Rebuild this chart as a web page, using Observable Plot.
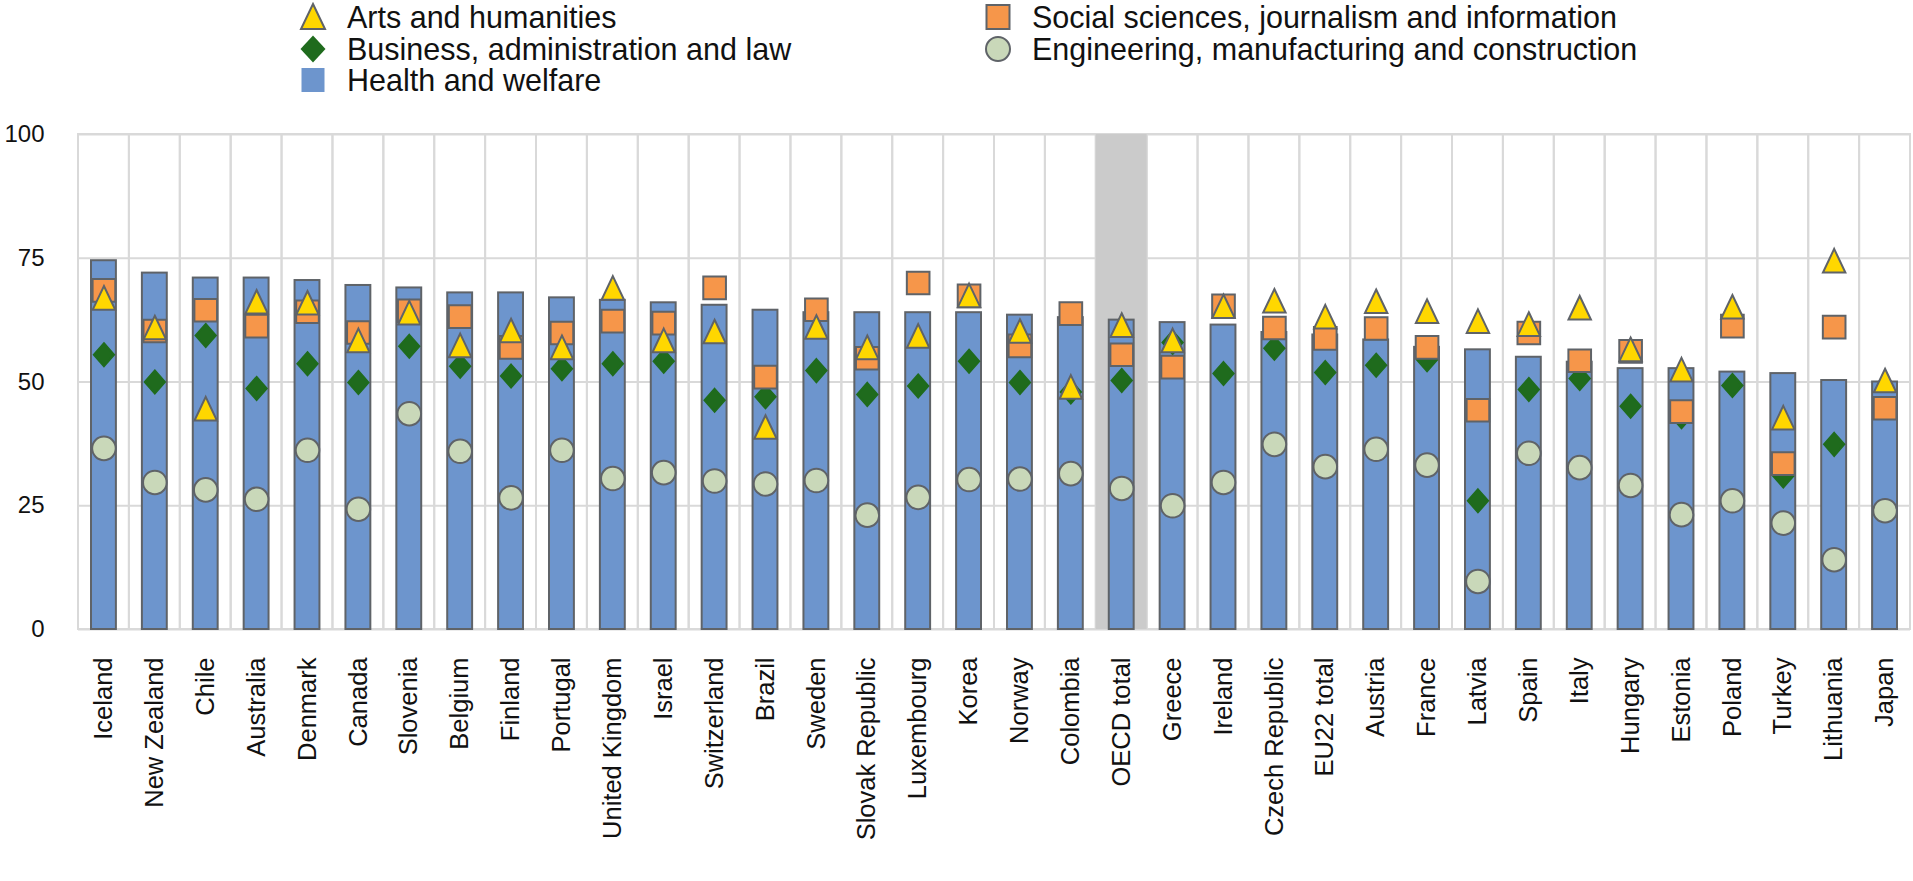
<!DOCTYPE html>
<html><head><meta charset="utf-8">
<script src="https://cdn.jsdelivr.net/npm/d3@7"></script>
<script src="https://cdn.jsdelivr.net/npm/@observablehq/plot@0.6"></script>
<style>
html,body{margin:0;padding:0;background:#fff;overflow:hidden;}
body{font-family:"Liberation Sans",Arial,sans-serif;}
#legend{position:relative;height:96px;width:1913px;}
.item{position:absolute;font-size:30.5px;line-height:30px;color:#111;white-space:nowrap;}
.sym{position:absolute;}
</style></head><body>
<div id="legend"></div>
<div id="chart"></div>
<script>
const countries = ["Iceland","New Zealand","Chile","Australia","Denmark","Canada","Slovenia","Belgium","Finland","Portugal","United Kingdom","Israel","Switzerland","Brazil","Sweden","Slovak Republic","Luxembourg","Korea","Norway","Colombia","OECD total","Greece","Ireland","Czech Republic","EU22 total","Austria","France","Latvia","Spain","Italy","Hungary","Estonia","Poland","Turkey","Lithuania","Japan"];
const health = [74.5,72,71,71,70.5,69.5,69,68,68,67,66.5,66,65.5,64.5,64,64,64,64,63.5,63,62.5,62,61.5,60,59.5,58.5,57,56.5,55,54,52.7,52.7,52,51.7,50.3,50];
const arts = [67,61,44.6,66.2,66,58.4,64,57.4,60.4,57,69,58.4,60.2,40.9,61.1,57,59.3,67.5,60.3,49,61.5,58.4,65.3,66.4,63.2,66.3,64.3,62.3,61.7,65,56.6,52.5,65.2,42.8,74.5,50.3];
const social = [68.5,60.3,64.5,61.3,64.2,60,64.4,63.2,57,59.9,62.3,61.9,69,51,64.6,54.8,70,67.4,57.3,63.8,55.5,53,65.4,60.9,58.8,60.8,57,44.3,59.9,54.3,56.2,44,61.3,33.5,61.1,44.7];
const business = [55.5,50,59.4,48.7,53.7,49.9,57.2,53.2,51.2,52.7,53.7,54.2,46.3,47,52.3,47.5,49.2,54.2,49.9,48,50.3,58,51.7,56.8,51.9,53.4,54.5,26,48.5,50.7,45.1,43,49.3,31,37.4,null];
const engineering = [36.6,29.7,28.2,26.3,36.2,24.3,43.6,36,26.6,36.2,30.5,31.7,30,29.4,30.1,23.1,26.7,30.3,30.4,31.5,28.5,25,29.7,37.4,32.9,36.4,33.2,9.7,35.6,32.7,29.1,23.2,26,21.5,14.1,24];
const highlighted = ["OECD total"];
const yTicks = [0,25,50,75,100];
const seriesNames = ["Arts and humanities","Business, administration and law","Health and welfare","Social sciences, journalism and information","Engineering, manufacturing and construction"];

const C = {bar:"#6d95cd", edge:"#5f6368", arts:"#ffd700", social:"#f6964a", business:"#1f6b1d", eng:"#c9d8b9", grid:"#d9d9d9", shade:"#cbcbcb"};

const triSym = {draw(ctx, size){const r=Math.sqrt(size/Math.PI); ctx.moveTo(0,-r); ctx.lineTo(0.95*r,r); ctx.lineTo(-0.95*r,r); ctx.closePath();}};
const sqSym = {draw(ctx, size){const r=Math.sqrt(size/Math.PI)*0.96; ctx.moveTo(-r,-r); ctx.lineTo(r,-r); ctx.lineTo(r,r); ctx.lineTo(-r,r); ctx.closePath();}};
const diaSym = {draw(ctx, size){const r=Math.sqrt(size/Math.PI); const w=0.88*r; ctx.moveTo(0,-r); ctx.lineTo(w,0); ctx.lineTo(0,r); ctx.lineTo(-w,0); ctx.closePath();}};

const data = countries.map((c,i)=>({country:c, health:health[i], arts:arts[i], social:social[i], business:business[i], eng:engineering[i]}));

// Legend
const legendSpecs = [
  {name:seriesNames[0], col:0, row:0, shape:"tri", fill:C.arts},
  {name:seriesNames[1], col:0, row:1, shape:"dia", fill:C.business},
  {name:seriesNames[2], col:0, row:2, shape:"bar", fill:C.bar},
  {name:seriesNames[3], col:1, row:0, shape:"sq", fill:C.social},
  {name:seriesNames[4], col:1, row:1, shape:"circ", fill:C.eng}
];
const colX = [313, 998];
const rowY = [17, 49, 80];
const leg = document.getElementById("legend");
for (const s of legendSpecs) {
  const cx = colX[s.col], cy = rowY[s.row];
  const svg = d3.create("svg").attr("class","sym").attr("width",30).attr("height",30)
    .style("left",(cx-15)+"px").style("top",(cy-15)+"px");
  let shape;
  if (s.shape==="tri") shape = svg.append("path").attr("d","M15,2 L27,27 L3,27 Z").attr("stroke",C.edge).attr("stroke-width",2);
  else if (s.shape==="dia") shape = svg.append("path").attr("d","M15,1.5 L27.5,15 L15,28.5 L2.5,15 Z");
  else if (s.shape==="bar") shape = svg.append("rect").attr("x",3.5).attr("y",3).attr("width",23).attr("height",24);
  else if (s.shape==="sq") shape = svg.append("rect").attr("x",3.5).attr("y",3).attr("width",23).attr("height",24).attr("stroke",C.edge).attr("stroke-width",2);
  else shape = svg.append("ellipse").attr("cx",15).attr("cy",15).attr("rx",12).attr("ry",12).attr("stroke",C.edge).attr("stroke-width",2);
  shape.attr("fill", s.fill);
  leg.appendChild(svg.node());
  const t = document.createElement("div");
  t.className = "item";
  t.textContent = s.name;
  t.style.left = (cx+34)+"px";
  t.style.top = (cy-14.6)+"px";
  leg.appendChild(t);
}

const plot = Plot.plot({
  width: 1913, height: 785,
  marginTop: 38, marginBottom: 252, marginLeft: 78, marginRight: 3,
  style: {fontFamily:'"Liberation Sans", Arial, sans-serif', color:"#111", background:"#fff"},
  x: {domain: countries, padding: 0, label: null},
  y: {domain: [0,100], label: null},
  marks: [
    Plot.barY(countries, {x: d=>d, y1: 0, y2: 100, fill: "none", stroke: C.grid, strokeWidth: 2}),
    Plot.ruleY(yTicks, {stroke: C.grid, strokeWidth: 2}),
    Plot.barY(highlighted, {x: d=>d, y1: 0, y2: 100, fill: C.shade}),
    Plot.barY(data, {x: "country", y: "health", fill: C.bar, stroke: C.edge, strokeWidth: 2, insetLeft: 13, insetRight: 13}),
    Plot.dot(data, {x: "country", y: "eng", r: 11.8, symbol: "circle", fill: C.eng, stroke: C.edge, strokeWidth: 2}),
    Plot.dot(data, {x: "country", y: "business", r: 11.5, symbol: diaSym, fill: C.business, stroke: C.business, strokeWidth: 2}),
    Plot.dot(data, {x: "country", y: "social", r: 11.8, symbol: sqSym, fill: C.social, stroke: C.edge, strokeWidth: 2}),
    Plot.dot(data, {x: "country", y: "arts", r: 11.8, symbol: triSym, fill: C.arts, stroke: C.edge, strokeWidth: 2}),
    Plot.axisY({ticks: yTicks, tickSize: 0, tickPadding: 34, fontSize: 24, label: null}),
    Plot.axisX({tickRotate: -90, tickSize: 0, tickPadding: 28, fontSize: 25.5, label: null})
  ]
});
document.getElementById("chart").appendChild(plot);
</script>
</body></html>
